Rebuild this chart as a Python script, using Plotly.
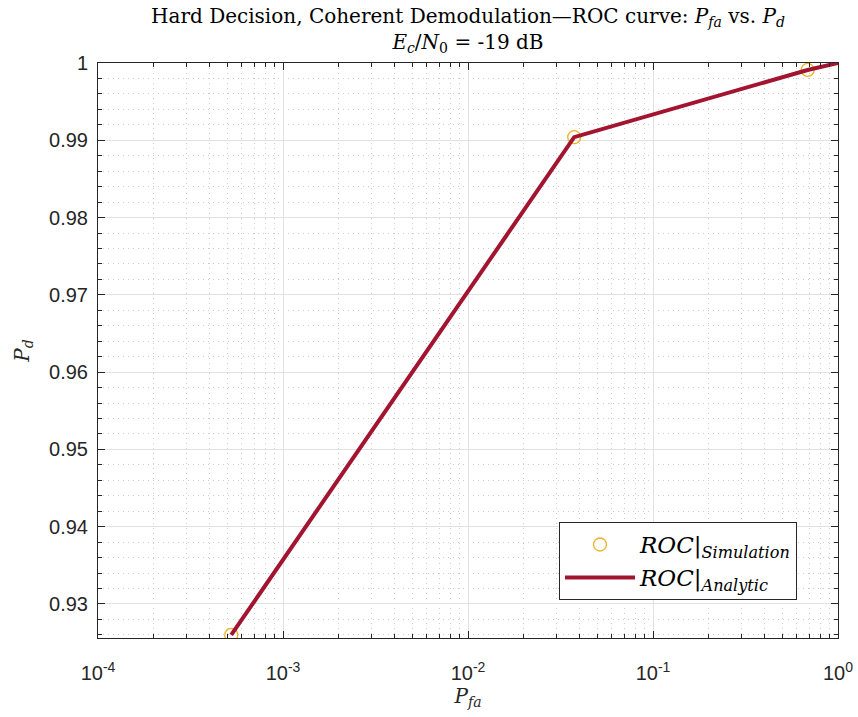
import plotly.graph_objects as go

# Data
sim_pfa = [5.25e-4, 0.0375, 0.685]
sim_pd = [0.9260, 0.9904, 0.9991]
ana_pfa = [5.25e-4, 0.0375, 0.685, 1.0]
ana_pd = [0.9260, 0.9904, 0.9991, 1.0]

x_major = [1e-4, 1e-3, 1e-2, 1e-1, 1e0]
x_labels = ["10<sup>-4</sup>", "10<sup>-3</sup>", "10<sup>-2</sup>", "10<sup>-1</sup>", "10<sup>0</sup>"]
y_major = [0.93, 0.94, 0.95, 0.96, 0.97, 0.98, 0.99, 1.0]
y_labels = ["0.93", "0.94", "0.95", "0.96", "0.97", "0.98", "0.99", "1"]

x_minor = [k * 10.0 ** d for d in range(-4, 0) for k in range(2, 10)]
y_minor = [round(0.926 + 0.002 * i, 3) for i in range(0, 38)]

serif = "DejaVu Serif"
sans = "Liberation Sans"

fig = go.Figure()
fig.add_trace(go.Scatter(
    x=sim_pfa, y=sim_pd, mode="markers",
    marker=dict(symbol="circle-open", size=13, color="#EDB120", line=dict(width=1.3, color="#EDB120")),
    name="<i>ROC</i>|<sub><i>Simulation</i></sub>",
))
fig.add_trace(go.Scatter(
    x=ana_pfa, y=ana_pd, mode="lines",
    line=dict(color="#A2142F", width=4),
    name="<i>ROC</i>|<sub><i>Analytic</i></sub>",
))

axis_common = dict(
    showline=True, linecolor="#262626", linewidth=1, mirror="ticks",
    ticks="inside", tickcolor="#262626", ticklen=7, tickwidth=1,
    showgrid=True, gridcolor="#e2e2e2", gridwidth=1,
    tickfont=dict(family=sans, size=20, color="#262626"),
    zeroline=False, automargin=False,
)
minor_common = dict(tickmode="array", showgrid=True, gridcolor="#cccccc",
                    griddash="1px,4px", gridwidth=1, ticks="inside", ticklen=4,
                    tickcolor="#262626")

fig.update_xaxes(
    type="log", range=[-4, 0],
    tickmode="array", tickvals=x_major, ticktext=x_labels,
    ticklabelstandoff=17,
    minor=dict(tickvals=x_minor, **minor_common),
    title=dict(text="<i>P</i><sub><i>fa</i></sub>", font=dict(family=serif, size=20, color="#262626"), standoff=2),
    **axis_common,
)
fig.update_yaxes(
    range=[0.9256, 1.0],
    tickmode="array", tickvals=y_major, ticktext=y_labels,
    ticklabelstandoff=5,
    minor=dict(tickvals=y_minor, **minor_common),
    title=dict(text="<i>P</i><sub><i>d</i></sub>", font=dict(family=serif, size=20, color="#262626"), standoff=14),
    **axis_common,
)

fig.update_layout(
    width=858, height=717,
    margin=dict(l=98, r=20, t=63, b=79),
    paper_bgcolor="white", plot_bgcolor="white",
    title=dict(
        text="Hard Decision, Coherent Demodulation\u2014ROC curve: <i>P</i><sub><i>fa</i></sub> vs. <i>P</i><sub><i>d</i></sub><br><i>E</i><sub><i>c</i></sub>/<i>N</i><sub>0</sub> = -19 dB",
        x=0.5, xref="paper", xanchor="center", y=0.968, yref="container", yanchor="top",
        font=dict(family=serif, size=20, color="#000000"),
    ),
    legend=dict(
        x=0.9446, xanchor="right", y=0.066, yanchor="bottom",
        bgcolor="white", bordercolor="#262626", borderwidth=1,
        font=dict(family=serif, size=23, color="#000000"),
        itemwidth=70, tracegroupgap=0,
    ),
    showlegend=True,
)

fig.write_html("out.html")
